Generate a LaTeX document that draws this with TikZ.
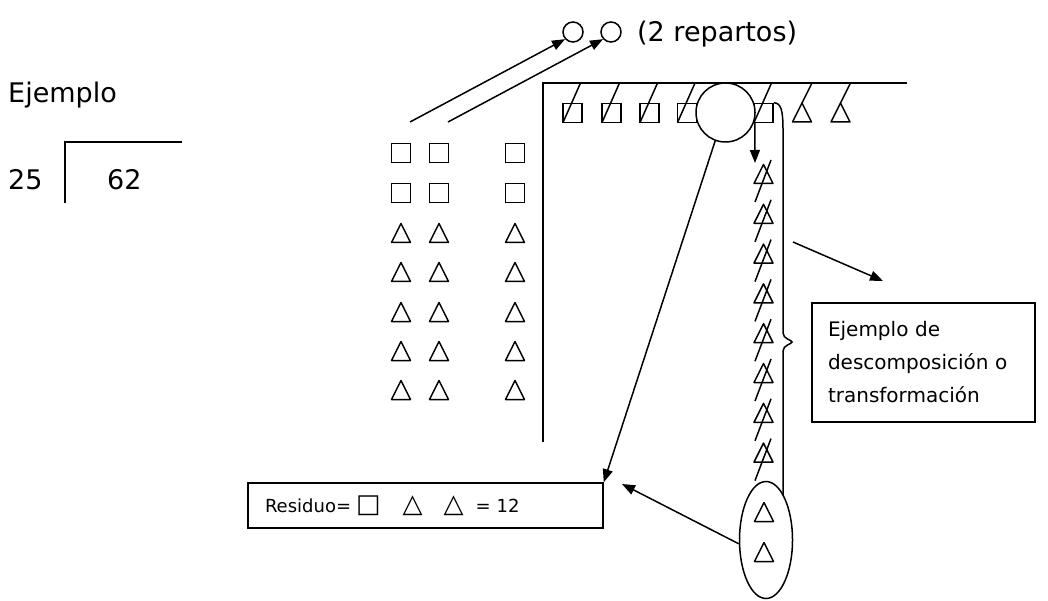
\documentclass[tikz,border=0pt]{standalone}
\usepackage{fontspec}
\setmainfont{DejaVu Sans}
\usetikzlibrary{arrows.meta,shapes.geometric,calc}
\newcommand\mytri[3]{\coordinate (#1) at (#2,#3); \draw[sym, shift={(#2,#3)}] (-9.5,9.5) -- (0,-9.5) -- (9.5,9.5) -- cycle;}
\newcommand\bigsym[1]{{\fontsize{26}{22}\selectfont #1}}
\begin{document}
\begin{tikzpicture}[x=1pt,y=-1pt]
\tikzset{
 sym/.style={line width=1.5pt, line join=round},
 sqr/.style={draw, minimum size=19pt, inner sep=0pt, line width=1.5pt},
 arr/.style={-{Triangle[length=13pt,width=10pt]}, line width=1.5pt},
 txt/.style={inner sep=0pt, anchor=base west, font=\fontsize{27}{33}\selectfont},
 rule/.style={line width=1.5pt},
}
\useasboundingbox (0,0) rectangle (1048,601);
% left: example division
\node[txt] (ej) at (8,103) {Ejemplo};
\node[txt] (d25) at (8,190) {25};
\node[txt] (d62) at (107,190) {62};
\draw[rule] (65,203) -- (65,142) -- (182,142);
% grid of shares
\foreach \c/\x in {1/401,2/439,3/515}{
  \node[sqr] (g1\c) at (\x,153) {};
  \node[sqr] (g2\c) at (\x,193) {};
  \foreach \r/\y in {3/233,4/272,5/312,6/351,7/390}{
    \mytri{g\r\c}{\x}{\y}
  }
}
% two circles
\node[draw, circle, minimum size=20pt, inner sep=0pt, line width=1.5pt] (c1) at (573,32) {};
\node[draw, circle, minimum size=20pt, inner sep=0pt, line width=1.5pt] (c2) at (611,32) {};
\node[txt] (rep) at (637,42) {(2 repartos)};
\coordinate (a1) at (410,122);
\coordinate (a2) at (448,122);
\draw[arr] (a1) -- (c1.222);
\draw[arr] (a2) -- (c2.222);
% frame
\draw[rule] (543,442) -- (543,83) -- (907,83);
% top row
\foreach \i/\x in {1/572.5,2/611.5,3/649.5,4/687,5/763.5}{
  \node[sqr] (s\i) at (\x,113) {};
  \draw[sym] (\x+8,83) -- (\x-9.5,122.5);
}
\foreach \i/\x in {1/802,2/840.5}{
  \mytri{u\i}{\x}{112.5}
  \draw[sym] (\x+10,83) -- (\x,103);
}
\node[draw, circle, fill=white, minimum size=59pt, inner sep=0pt, line width=1.5pt] (bc) at (725.5,112.5) {};
% column of transformed triangles
\foreach \i in {0,...,7}{
  \pgfmathsetmacro\cy{174+39.8*\i}
  \mytri{k\i}{763.5}{\cy}
  \draw[sym] (771,{\cy-14}) -- (755,{\cy+28});
}
\coordinate (kt) at (755,163);
\draw[arr] ([xshift=1.5pt]s5.south west) -- (kt);
% ellipse with remaining triangles
\node[draw, ellipse, minimum width=53pt, minimum height=117pt, inner sep=0pt, line width=1.5pt] (ell) at (766,540) {};
\mytri{e1}{764}{512}
\mytri{e2}{764}{552}
% brace
\draw[rule] (s5.north east) .. controls (781,103) and (783,110) .. (783,130) -- (783,333)
  .. controls (783,339) and (792,340) .. (792,342)
  .. controls (792,344) and (783,345) .. (783,351) -- (783,495);
% explanation box
\node[draw, line width=1.5pt, minimum width=223pt, minimum height=119pt, inner xsep=16pt, text width=191pt, align=left,
  font=\fontsize{20}{33}\selectfont] (box) at (923.5,362.5) {Ejemplo de\\descomposición o\\transformación};
\coordinate (bp) at (793,242);
\coordinate (bq) at (883,281);
\draw[arr] (bp) -- (bq);
% residue box
\node[draw, line width=1.5pt, minimum width=355pt, minimum height=45pt, inner xsep=17pt, text width=321pt, align=left,
  font=\fontsize{18}{22}\selectfont] (res) at (425.5,505.5)
  {Residuo=\hspace{5pt}\bigsym{□}\hspace{22pt}\bigsym{△}\hspace{21pt}\bigsym{△}\hspace{6pt} = 12};
\coordinate (rt) at (622,484);
\draw[arr] (bc.250) -- (res.north east);
\draw[arr] (ell.188) -- (rt);
\end{tikzpicture}
\end{document}
